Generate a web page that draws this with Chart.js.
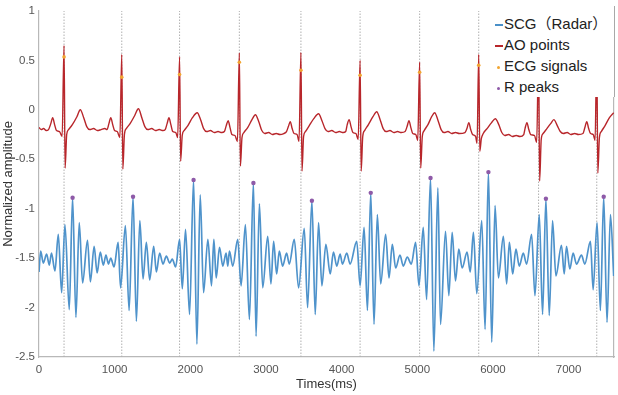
<!DOCTYPE html>
<html>
<head>
<meta charset="utf-8">
<script src="https://cdn.jsdelivr.net/npm/chart.js@4.4.1/dist/chart.umd.min.js"></script>
<style>
  body { margin: 0; background: #fff; }
  #wrap { position: relative; width: 618px; height: 395px; }
  #legend {
    position: absolute; left: 481px; top: 6px; width: 119px; height: 84px;
    padding: 7px 0 0 14px; background: #fff;
    border-right: 1.5px solid #a8a8a8;
    font-family: "Liberation Sans", Arial, "Noto Sans CJK SC", sans-serif;
    font-size: 15px; color: #222;
  }
  #legend .row { height: 21px; line-height: 21px; white-space: nowrap; }
  #legend .sym { display: inline-block; width: 8px; margin-right: 1px; vertical-align: middle; }
  #legend .ln { height: 1.5px; }
  #legend .dot { width: 3px; height: 3px; border-radius: 2px; margin: 0 4px 0 2px; }
</style>
</head>
<body>
<div id="wrap">
  <canvas id="signalChart" width="618" height="395"></canvas>
  <div id="legend">
    <div class="row"><span class="sym ln" style="background:#4a90c8"></span>SCG（Radar）</div>
    <div class="row"><span class="sym ln" style="background:#b8262b"></span>AO points</div>
    <div class="row"><span class="sym dot" style="background:#f2a531"></span>ECG signals</div>
    <div class="row"><span class="sym dot" style="background:#8e5aa8"></span>R peaks</div>
  </div>
</div>
<script>
// ECG trace, [time ms, amplitude]
const ecgTrace = [
  [0,-0.18],[30,-0.20],[60,-0.19],[95,-0.21],[126,-0.20],[156,-0.14],[181,-0.08],[206,-0.15],[231,-0.21],[271,-0.22],[306,-0.27],
  [331,0.65],[345,-0.59],[366,-0.25],[391,-0.20],[441,-0.15],[501,-0.07],[546,0.00],[591,-0.08],[631,-0.17],[671,-0.20],[721,-0.19],[771,-0.21],[821,-0.20],[871,-0.19],
  [899,-0.20],[924,-0.14],[949,-0.08],[974,-0.15],[999,-0.21],[1034,-0.22],[1069,-0.28],
  [1094,0.56],[1108,-0.60],[1129,-0.25],[1154,-0.19],[1204,-0.14],[1264,-0.06],[1314,0.01],[1359,-0.08],[1399,-0.17],[1439,-0.20],[1489,-0.19],[1539,-0.21],[1589,-0.20],[1639,-0.21],
  [1668,-0.20],[1693,-0.14],[1718,-0.08],[1743,-0.15],[1768,-0.22],[1808,-0.23],[1833,-0.28],
  [1858,0.535],[1872,-0.52],[1893,-0.26],[1918,-0.21],[1968,-0.16],[2028,-0.08],[2091,-0.03],[2136,-0.10],[2176,-0.19],[2216,-0.22],[2266,-0.21],[2316,-0.23],[2366,-0.22],[2416,-0.23],
  [2450,-0.22],[2475,-0.16],[2500,-0.11],[2525,-0.18],[2550,-0.25],[2590,-0.26],[2623,-0.32],
  [2648,0.576],[2662,-0.57],[2683,-0.28],[2708,-0.23],[2758,-0.18],[2815,-0.10],[2860,-0.05],[2905,-0.12],[2945,-0.21],[2985,-0.24],[3035,-0.23],[3085,-0.25],[3135,-0.24],[3185,-0.25],[3235,-0.24],[3271,-0.22],
  [3296,-0.17],[3321,-0.12],[3346,-0.19],[3371,-0.24],[3411,-0.25],[3437,-0.32],
  [3462,0.58],[3476,-0.62],[3497,-0.27],[3522,-0.22],[3572,-0.16],[3632,-0.09],[3695,-0.04],[3740,-0.11],[3780,-0.19],[3820,-0.22],[3870,-0.21],[3920,-0.23],[3970,-0.22],[4020,-0.23],[4054,-0.22],
  [4074,-0.15],[4099,-0.10],[4124,-0.17],[4149,-0.23],[4189,-0.24],[4219,-0.30],
  [4244,0.50],[4258,-0.62],[4279,-0.27],[4304,-0.21],[4354,-0.15],[4414,-0.07],[4464,-0.02],[4509,-0.10],[4549,-0.19],[4589,-0.22],[4639,-0.21],[4689,-0.23],[4739,-0.22],[4789,-0.23],[4839,-0.22],
  [4865,-0.17],[4890,-0.11],[4915,-0.18],[4940,-0.24],[4980,-0.25],[5006,-0.31],
  [5031,0.48],[5045,-0.59],[5066,-0.27],[5091,-0.21],[5141,-0.15],[5190,-0.07],[5230,-0.03],[5275,-0.11],[5315,-0.20],[5355,-0.23],[5405,-0.22],[5455,-0.24],[5505,-0.23],[5555,-0.24],[5630,-0.23],
  [5656,-0.19],[5681,-0.13],[5706,-0.20],[5731,-0.25],[5771,-0.27],[5790,-0.34],
  [5812,0.56],[5826,-0.42],[5847,-0.29],[5872,-0.24],[5922,-0.19],[5982,-0.13],[6032,-0.09],[6077,-0.15],[6117,-0.23],[6157,-0.26],[6207,-0.25],[6257,-0.27],[6307,-0.26],[6357,-0.27],[6407,-0.25],
  [6424,-0.19],[6449,-0.13],[6474,-0.20],[6499,-0.25],[6549,-0.26],[6578,-0.33],
  [6603,0.58],[6617,-0.72],[6638,-0.30],[6663,-0.24],[6713,-0.19],[6763,-0.14],[6805,-0.10],[6850,-0.16],[6890,-0.22],[6930,-0.24],[6980,-0.23],[7030,-0.25],[7080,-0.24],[7130,-0.25],[7190,-0.24],
  [7215,-0.18],[7240,-0.12],[7265,-0.19],[7290,-0.24],[7325,-0.25],[7350,-0.31],
  [7372,0.58],[7386,-0.64],[7407,-0.28],[7432,-0.22],[7482,-0.16],[7540,-0.08],[7596,-0.03]
];

// SCG (radar) trace, extrema
const scgTrace = [
  [0,-1.64],[22,-1.43],[57,-1.55],[101,-1.46],[136,-1.57],[165,-1.45],[211,-1.63],
  [255,-1.26],[299,-1.85],[343,-1.16],[400,-2.02],[444,-0.89],[488,-2.10],[532,-1.14],[576,-1.75],[641,-1.32],[679,-1.74],[729,-1.38],[768,-1.65],[810,-1.44],[850,-1.57],[885,-1.47],[918,-1.56],[948,-1.50],[992,-1.59],
  [1046,-1.34],[1078,-1.80],[1142,-1.17],[1191,-2.03],[1243,-0.88],[1287,-2.14],[1333,-1.12],[1375,-1.71],[1419,-1.34],[1463,-1.72],[1516,-1.38],[1551,-1.64],[1595,-1.45],[1639,-1.56],[1683,-1.48],[1727,-1.55],[1762,-1.51],[1806,-1.59],
  [1858,-1.31],[1894,-1.81],[1937,-1.21],[1990,-2.07],[2043,-0.71],[2087,-2.37],[2131,-0.86],[2175,-1.85],[2232,-1.31],[2280,-1.78],[2311,-1.31],[2342,-1.70],[2386,-1.39],[2429,-1.58],[2473,-1.45],[2495,-1.58],[2517,-1.43],[2561,-1.58],
  [2627,-1.31],[2671,-1.78],[2728,-1.16],[2781,-2.12],[2834,-0.74],[2869,-2.29],[2913,-0.95],[2957,-1.80],[3023,-1.28],[3066,-1.76],[3101,-1.33],[3141,-1.66],[3176,-1.43],[3220,-1.58],[3273,-1.45],[3308,-1.56],
  [3374,-1.31],[3431,-1.80],[3506,-1.20],[3550,-2.00],[3607,-0.92],[3651,-2.07],[3695,-1.14],[3739,-1.78],[3792,-1.36],[3849,-1.66],[3892,-1.44],[3936,-1.58],[3980,-1.46],[4011,-1.56],[4068,-1.45],[4112,-1.56],
  [4200,-1.33],[4244,-1.78],[4297,-1.19],[4341,-2.03],[4385,-0.84],[4428,-2.17],[4472,-1.06],[4516,-1.76],[4582,-1.26],[4626,-1.70],[4670,-1.36],[4714,-1.60],[4771,-1.47],[4815,-1.58],[4868,-1.49],[4921,-1.56],
  [4978,-1.34],[5022,-1.78],[5079,-1.19],[5123,-1.92],[5175,-0.69],[5219,-2.44],[5272,-0.79],[5307,-2.17],[5373,-1.23],[5417,-1.88],[5461,-1.24],[5505,-1.73],[5549,-1.41],[5593,-1.60],[5658,-1.44],[5700,-1.64],
  [5742,-1.24],[5786,-1.86],[5852,-1.12],[5896,-2.22],[5940,-0.63],[5984,-2.35],[6028,-0.97],[6072,-1.70],[6138,-1.28],[6181,-1.76],[6217,-1.34],[6261,-1.66],[6304,-1.41],[6348,-1.58],[6401,-1.45],[6445,-1.56],
  [6511,-1.26],[6555,-1.88],[6612,-1.06],[6656,-2.07],[6700,-0.90],[6744,-2.08],[6788,-1.12],[6832,-1.68],[6906,-1.37],[6942,-1.66],[6972,-1.38],[7016,-1.61],[7060,-1.45],[7104,-1.56],[7170,-1.47],[7214,-1.56],
  [7289,-1.33],[7324,-1.82],[7376,-1.14],[7420,-2.03],[7464,-0.88],[7508,-2.15],[7553,-1.06],[7596,-1.68]
];

const rPeakTimes = [331, 1094, 1858, 2648, 3462, 4244, 5031, 5812, 6603, 7372];
const ecgMarkValues = [0.535, 0.33, 0.357, 0.48, 0.40, 0.35, 0.38, 0.45, 0.40, 0.40];
const scgPeakTimes = [444, 1243, 2043, 2834, 3607, 4385, 5175, 5940, 6700, 7464];
const scgPeakValues = [-0.89, -0.88, -0.71, -0.74, -0.92, -0.84, -0.69, -0.63, -0.90, -0.88];

const xTickValues = [0, 1000, 2000, 3000, 4000, 5000, 6000, 7000];
const yTickValues = [1, 0.5, 0, -0.5, -1, -1.5, -2, -2.5];
const xMin = 0, xMax = 7600, yMin = -2.5, yMax = 1;

const toXY = arr => arr.map(p => ({ x: p[0], y: p[1] }));
const guideLines = rPeakTimes.flatMap(t => [{ x: t, y: yMin }, { x: t, y: yMax }, { x: t, y: null }]);

const family = '"Liberation Sans", Arial, sans-serif';
const tickFont = { family: family, size: 11.5 };
const axisGrey = '#b8b8b8';

new Chart(document.getElementById('signalChart'), {
  type: 'scatter',
  data: {
    datasets: [{
      label: 'guides',
      data: guideLines,
      showLine: true,
      spanGaps: false,
      borderColor: '#b0b0b0',
      borderWidth: 1,
      borderDash: [1.5, 1.5],
      pointRadius: 0,
      order: 5
    }, {
      label: 'SCG（Radar）',
      data: toXY(scgTrace),
      showLine: true,
      borderColor: '#4f93cb',
      borderWidth: 1.7,
      cubicInterpolationMode: 'monotone',
      pointRadius: 0,
      order: 4
    }, {
      label: 'AO points',
      data: toXY(ecgTrace),
      showLine: true,
      borderColor: '#b8262b',
      borderWidth: 1.4,
      cubicInterpolationMode: 'monotone',
      pointRadius: 0,
      order: 3
    }, {
      label: 'ECG signals',
      data: rPeakTimes.map((t, i) => ({ x: t, y: ecgMarkValues[i] })),
      pointRadius: 1.8,
      pointBackgroundColor: '#f2a531',
      pointBorderWidth: 0,
      order: 2
    }, {
      label: 'R peaks',
      data: scgPeakTimes.map((t, i) => ({ x: t, y: scgPeakValues[i] })),
      pointRadius: 2.2,
      pointBackgroundColor: '#8e5aa8',
      pointBorderWidth: 0,
      order: 1
    }]
  },
  options: {
    responsive: false,
    animation: false,
    layout: { padding: { top: 8, right: 3, left: 0, bottom: 0 } },
    plugins: {
      legend: { display: false },
      tooltip: { enabled: false }
    },
    scales: {
      x: {
        type: 'linear',
        min: xMin,
        max: xMax,
        afterBuildTicks: s => { s.ticks = xTickValues.map(v => ({ value: v })); },
        afterFit: s => { s.height = 38; },
        grid: { display: false, drawTicks: false, tickLength: 0 },
        border: { display: true, color: axisGrey, width: 1.2 },
        ticks: { font: tickFont, color: '#555', padding: 6, maxRotation: 0, callback: v => String(v) },
        title: { display: true, text: 'Times(ms)', font: { family: family, size: 13 }, color: '#333', padding: { top: 0, bottom: 3 } }
      },
      y: {
        min: yMin,
        max: yMax,
        afterBuildTicks: s => { s.ticks = yTickValues.map(v => ({ value: v })); },
        afterFit: s => { s.width = 39; },
        grid: { display: false, drawTicks: false, tickLength: 0 },
        border: { display: true, color: axisGrey, width: 1.2 },
        ticks: { font: tickFont, color: '#555', padding: 4, callback: v => String(v) },
        title: { display: true, text: 'Normalized amplitude', font: { family: family, size: 13 }, color: '#333', padding: { top: 1, bottom: 0 } }
      },
      yRight: {
        position: 'right',
        min: yMin,
        max: yMax,
        afterFit: s => { s.width = 0; },
        grid: { display: false, drawTicks: false, tickLength: 0 },
        border: { display: true, color: axisGrey, width: 1.2 },
        ticks: { display: false }
      }
    }
  }
});
</script>
</body>
</html>
